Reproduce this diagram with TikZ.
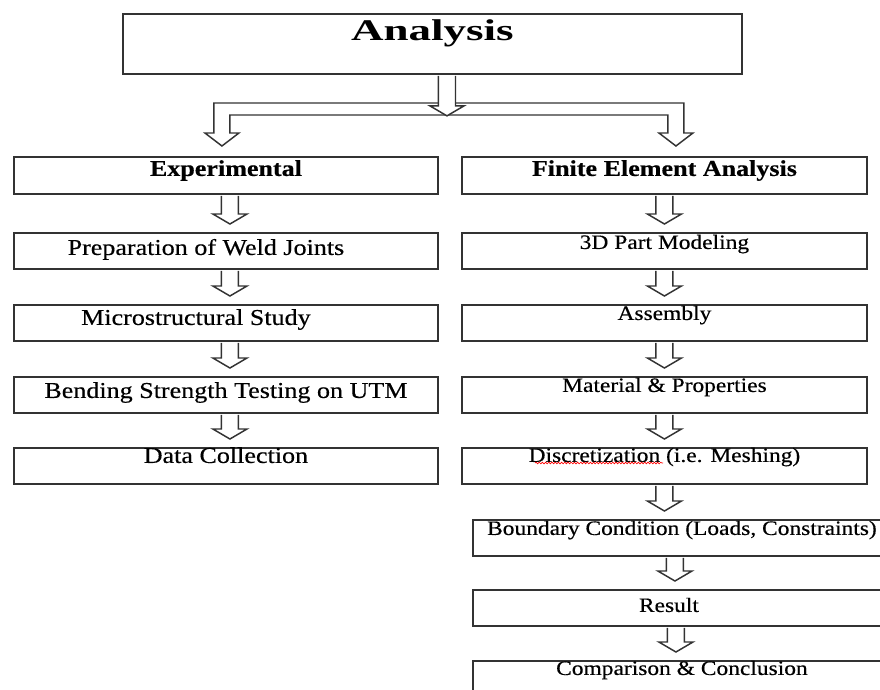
\documentclass[tikz,border=0pt]{standalone}
\usepackage{fontspec}
\setmainfont{Liberation Serif}
\newfontfamily\boxfont[FakeStretch=1.15,FakeBold=0.4]{Liberation Serif}
\newfontfamily\titlefont[FakeStretch=1.5]{Liberation Serif}
\usetikzlibrary{calc}
\usetikzlibrary{decorations.pathmorphing}
\colorlet{frame}{black!80}
\tikzset{
  stage/.style = {draw=frame, line width=1.4pt, inner sep=0pt,
    anchor=north west, minimum height=27pt},
  leftbox/.style = {stage, minimum width=318pt,
    font=\boxfont\fontsize{17}{20}\selectfont},
  rightbox/.style = {stage, minimum width=303.75pt,
    font=\boxfont\fontsize{15.3}{18}\selectfont},
  lowbox/.style = {rightbox, minimum width=313.5pt},
  heading/.style = {stage, minimum height=27.75pt,
    font=\boxfont\bfseries\fontsize{17}{20}\selectfont},
  tb/.style 2 args = {text height=#1pt, text depth=#2pt},
  hollow/.style = {draw=frame, line width=1.1pt, fill=white}
}
\newcommand{\blockarrow}[3][6pt]{%
  \draw[hollow] let \p1=#2, \p2=#3 in
    (\x1-6.4pt,\y1-0.7pt) -- (\x1-6.4pt,\y2+#1+7.5pt) -- (\x1-12.8pt,\y2+#1+7.5pt)
    -- (\x1,\y2+#1) -- (\x1+12.8pt,\y2+#1+7.5pt) -- (\x1+6.4pt,\y2+#1+7.5pt)
    -- (\x1+6.4pt,\y1-0.7pt);}

\begin{document}
\begin{tikzpicture}[x=0.75pt,y=-0.75pt]
  \useasboundingbox (0,0) rectangle (880,689);
  \clip (0,0) rectangle (880,689);

  \node[stage, minimum width=464.25pt, minimum height=45pt, tb={20.25}{24.75},
    font=\titlefont\bfseries\fontsize{22.5}{26}\selectfont] (ana) at (122,13) {Analysis};
  \node[heading, minimum width=318pt, tb={14.25}{13.5}] (exp) at (13,156) {Experimental};
  \node[heading, minimum width=303.75pt, tb={14.25}{13.5}] (fea) at (461,156) {Finite Element Analysis};

  \node[leftbox, tb={16.5}{10.5}] (prep) at (13,232) {Preparation of Weld Joints\hspace*{30pt}};
  \node[leftbox, tb={15}{12}] (micro) at (13,304) {Microstructural Study\hspace*{45pt}};
  \node[leftbox, tb={15.75}{11.25}] (bend) at (13,376) {Bending Strength Testing on UTM};
  \node[leftbox, tb={11.25}{15.75}] (data) at (13,447) {Data Collection};

  \node[rightbox, tb={12}{15}] (part) at (461,232) {3D Part Modeling};
  \node[rightbox, tb={11.25}{15.75}] (asm) at (461,304) {Assembly};
  \node[rightbox, tb={11.25}{15.75}] (mat) at (461,376) {Material \& Properties};
  \node[rightbox, tb={10.5}{16.5}] (mesh) at (461,447) {Discretization (i.e. Meshing)};
  \node[lowbox, tb={11.25}{15.75}] (bc) at (472,519) {Boundary Condition (Loads, Constraints)};
  \node[lowbox, tb={16.5}{10.5}] (res) at (472,589) {Result\hspace*{19.5pt}};
  \node[lowbox, tb={10.5}{16.5}] (comp) at (472,660) {Comparison \& Conclusion};

  \coordinate (split) at ($(ana.south)+(14.5,41)$);
  \coordinate (tipL) at ($(exp.north)+(-4,-10)$);
  \coordinate (tipR) at ($(fea.north)+(11.5,-10)$);
  \draw[hollow] (tipL) -- ($(tipL)+(-17,-13)$) -- ($(tipL)+(-8,-13)$) -- ($(tipL)+(-8,-43)$)
    -- ($(tipR)+(8,-43)$) -- ($(tipR)+(8,-13)$) -- ($(tipR)+(17,-13)$) -- (tipR)
    -- ($(tipR)+(-17,-13)$) -- ($(tipR)+(-8,-13)$) -- ($(tipR)+(-8,-31)$)
    -- ($(tipL)+(8,-31)$) -- ($(tipL)+(8,-13)$) -- ($(tipL)+(17,-13)$) -- cycle;
  \blockarrow[0pt]{([xshift=10.9pt]ana.south)}{(split)}

  \blockarrow{([xshift=3pt]exp.south)}{(prep.north)}
  \blockarrow{([xshift=3pt]prep.south)}{(micro.north)}
  \blockarrow{([xshift=3pt]micro.south)}{(bend.north)}
  \blockarrow{([xshift=3pt]bend.south)}{(data.north)}

  \blockarrow{(fea.south)}{(part.north)}
  \blockarrow{(part.south)}{(asm.north)}
  \blockarrow{(asm.south)}{(mat.north)}
  \blockarrow{(mat.south)}{(mesh.north)}
  \blockarrow{(mesh.south)}{(bc.north)}
  \blockarrow{([xshift=-5.25pt]bc.south)}{(res.north)}
  \blockarrow{([xshift=-4.5pt]res.south)}{(comp.north)}

  \draw[red, line width=0.5pt, decorate, decoration={snake, amplitude=0.6pt, segment length=2.4pt}]
    ($(mesh.north west)+(74,16)$) -- ($(mesh.north west)+(202,16)$);
\end{tikzpicture}
\end{document}
